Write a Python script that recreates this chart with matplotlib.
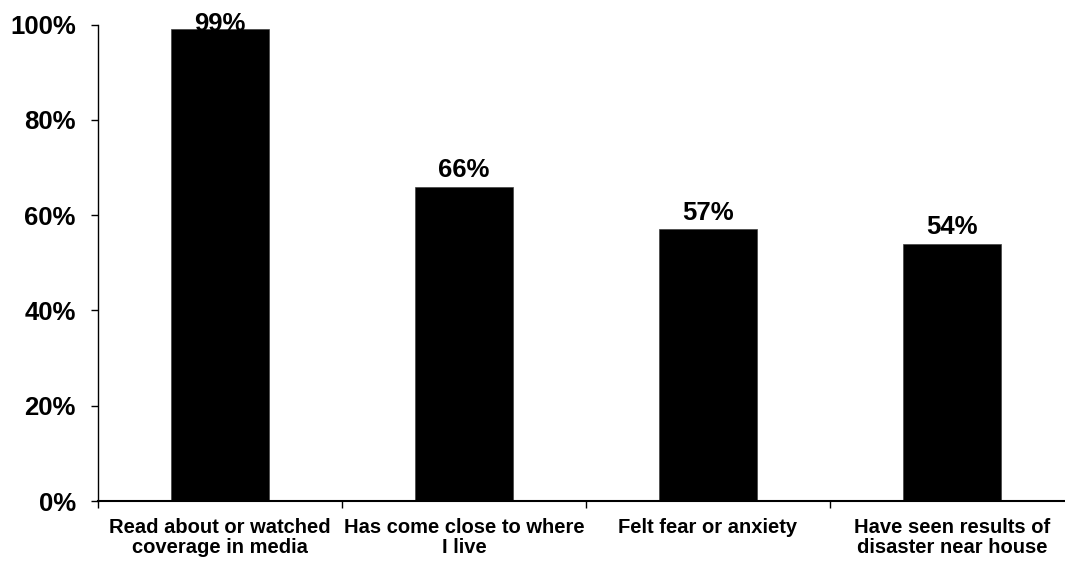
import matplotlib.pyplot as plt
from matplotlib.ticker import FixedLocator

plt.rcParams['font.family'] = ['Liberation Sans', 'DejaVu Sans']
plt.rcParams['font.weight'] = 'bold'

categories = ['Read about or watched\ncoverage in media',
              'Has come close to where\nI live',
              'Felt fear or anxiety',
              'Have seen results of\ndisaster near house']
values = [99, 66, 57, 54]
y_ticks = [0, 20, 40, 60, 80, 100]

fig = plt.figure(figsize=(10.65, 5.66), dpi=100)
ax = fig.add_axes([0.092, 0.1148, 0.9164, 0.8419])

x = list(range(len(categories)))
ax.bar(x, values, width=0.4, color='black', edgecolor='#404040', linewidth=0.5)

for xi, v in zip(x, values):
    ax.text(xi, min(v + 2, 98.6), f'{v}%', ha='center', va='baseline',
            fontsize=18.5, fontweight='bold', clip_on=False)

ax.set_xlim(-0.5, len(categories) - 0.5)
ax.set_ylim(0, 100)
ax.set_yticks(y_ticks)
ax.set_yticklabels([f'{t}%' for t in y_ticks], fontsize=18.5, fontweight='bold')
ax.set_xticks(x)
ax.set_xticklabels(categories, fontsize=14.5, fontweight='bold', linespacing=1.1)
ax.xaxis.set_minor_locator(FixedLocator([i - 0.5 for i in range(len(categories) + 1)]))
ax.tick_params(axis='x', which='major', length=0, pad=12)
ax.tick_params(axis='x', which='minor', length=5, width=1, direction='out')
ax.tick_params(axis='y', length=5, width=1, direction='out', pad=11)

for side in ['top', 'right']:
    ax.spines[side].set_visible(False)
ax.spines['left'].set_linewidth(1)
ax.spines['bottom'].set_linewidth(1.5)

fig.savefig('out.png', dpi=100)
